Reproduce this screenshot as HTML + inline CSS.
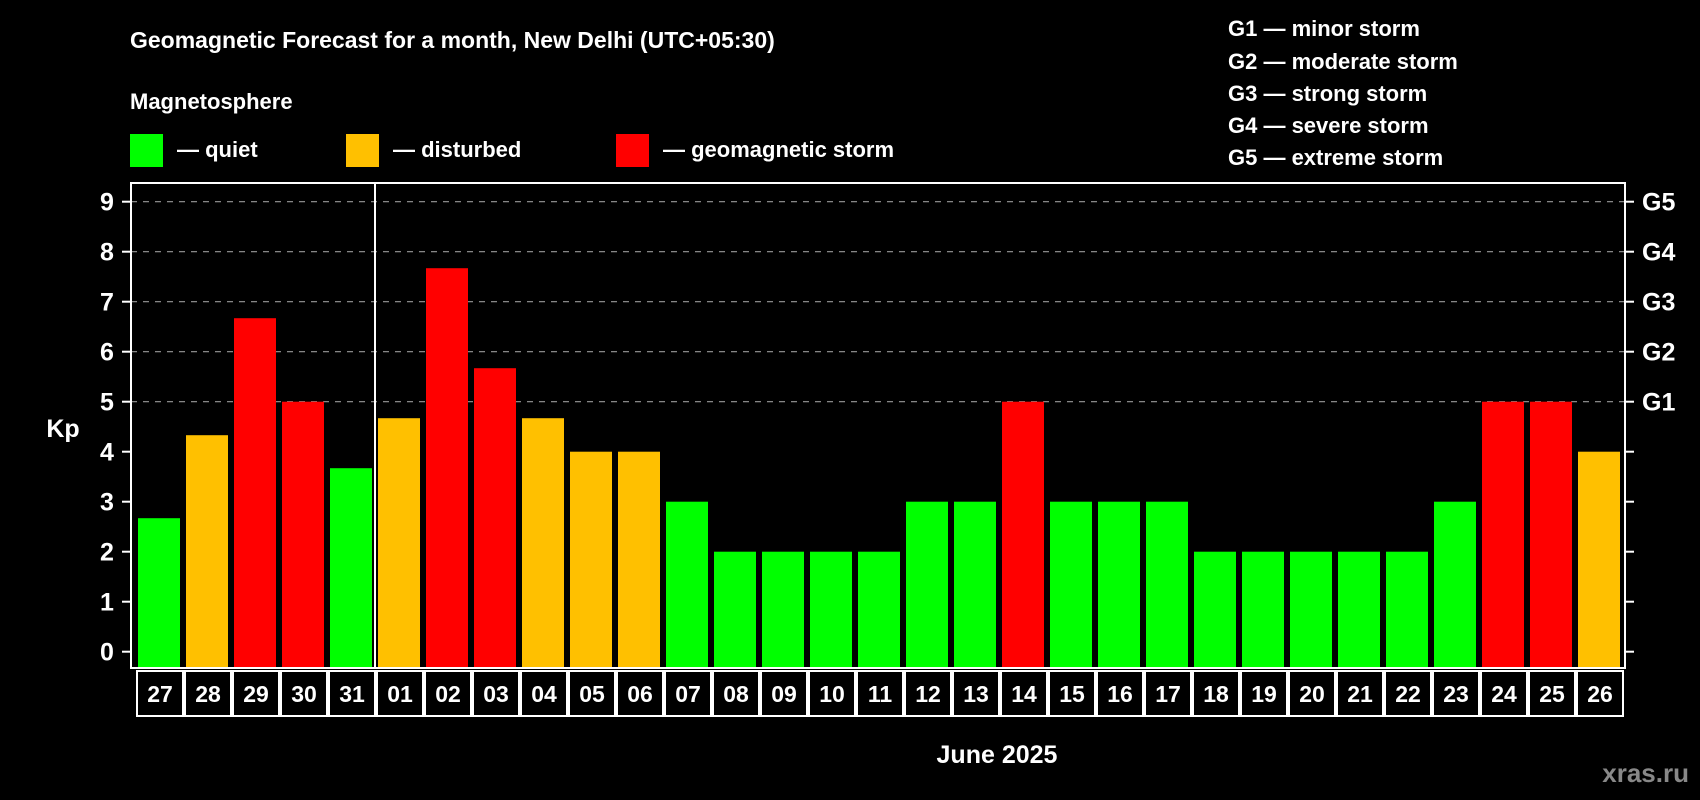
<!DOCTYPE html>
<html><head><meta charset="utf-8">
<style>
html,body{margin:0;padding:0;background:#000;}
svg{display:block;font-family:"Liberation Sans",Arial,sans-serif;font-weight:bold;}
</style></head>
<body>
<svg id="chart" width="1700" height="800" viewBox="0 0 1700 800" xmlns="http://www.w3.org/2000/svg">
<rect width="1700" height="800" fill="#000"/>
<text x="130" y="48" fill="#fff" font-size="23">Geomagnetic Forecast for a month, New Delhi (UTC+05:30)</text>
<text x="130" y="109" fill="#fff" font-size="22">Magnetosphere</text>
<g>
<rect x="130" y="134" width="33" height="33" fill="#00ff00"/>
<text x="177" y="157" fill="#fff" font-size="22">— quiet</text></g>
<g>
<rect x="346" y="134" width="33" height="33" fill="#ffc000"/>
<text x="393" y="157" fill="#fff" font-size="22">— disturbed</text></g>
<g>
<rect x="616" y="134" width="33" height="33" fill="#ff0000"/>
<text x="663" y="157" fill="#fff" font-size="22">— geomagnetic storm</text></g>
<g font-size="22" fill="#fff">
<text x="1228" y="36">G1 — minor storm</text>
<text x="1228" y="69">G2 — moderate storm</text>
<text x="1228" y="101">G3 — strong storm</text>
<text x="1228" y="133">G4 — severe storm</text>
<text x="1228" y="165">G5 — extreme storm</text>
</g>
<text x="63" y="437" fill="#fff" font-size="25" text-anchor="middle">Kp</text>
<text x="997" y="763" fill="#fff" font-size="25" text-anchor="middle">June 2025</text>
<text x="1689" y="782" fill="#888" font-size="26" text-anchor="end">xras.ru</text>
<g id="plot"></g>
</svg>
<script>
const days = ["27","28","29","30","31","01","02","03","04","05","06","07","08","09","10","11","12","13","14","15","16","17","18","19","20","21","22","23","24","25","26"];
const kpValues = [2.67,4.33,6.67,5,3.67,4.67,7.67,5.67,4.67,4,4,3,2,2,2,2,3,3,5,3,3,3,2,2,2,2,2,3,5,5,4];
const yTicks = [0,1,2,3,4,5,6,7,8,9];
const gLabels = ["G1","G2","G3","G4","G5"];
const gLevels = [5,6,7,8,9];
const monthBreakIndex = 5;

const NS = "http://www.w3.org/2000/svg";
const plot = document.getElementById("plot");
const L = 131, R = 1625, T = 183, B = 668;
const y0 = 651.7, unit = 50;
const x0 = 138, pitch = 48, bw = 42;
function yScale(v){ return y0 - v*unit; }
function xScale(i){ return x0 + i*pitch + (i >= monthBreakIndex ? 0 : 0); }
function mk(tag, attrs){ const e = document.createElementNS(NS, tag); for (const k in attrs) e.setAttribute(k, attrs[k]); plot.appendChild(e); return e; }
function color(v){ return v >= 5 ? "#ff0000" : (v >= 4 ? "#ffc000" : "#00ff00"); }

// gridlines
gLevels.forEach(v => {
  const g = mk("line", {x1:L, x2:R, y1:yScale(v), y2:yScale(v), stroke:"#999", "stroke-width":1.2, "stroke-dasharray":"6,6"});
  
  
});
// bars
kpValues.forEach((v, i) => {
  const r = mk("rect", {x:xScale(i), y:yScale(v), width:bw, height:yScale(0) - yScale(v) + (B - y0) - 1, fill:color(v)});
  
  
});
// plot frame
const fr = mk("rect", {x:L, y:T, width:R-L, height:B-T, fill:"none", stroke:"#fff", "stroke-width":2});


const dv = mk("line", {x1:375, x2:375, y1:T, y2:B, stroke:"#fff", "stroke-width":2});


// y ticks
yTicks.forEach(v => {
  const t = mk("line", {x1:122, x2:L, y1:yScale(v), y2:yScale(v), stroke:"#fff", "stroke-width":2});
  
  
  const t2 = mk("line", {x1:R, x2:1634, y1:yScale(v), y2:yScale(v), stroke:"#fff", "stroke-width":2});
  
  
  const lb = mk("text", {x:107, y:yScale(v)+9, fill:"#fff", "font-size":25, "text-anchor":"middle"});
  lb.textContent = v;
  
  
});
gLabels.forEach((g, i) => {
  const lb = mk("text", {x:1642, y:yScale(gLevels[i])+9, fill:"#fff", "font-size":25});
  lb.textContent = g;
  
  
});
// day label cells
days.forEach((d, i) => {
  const cx = 136 + i*pitch;
  const c = mk("rect", {x:cx+1, y:671, width:pitch-2, height:45, fill:"none", stroke:"#fff", "stroke-width":2});
  
  
  const t = mk("text", {x:cx + pitch/2, y:702, fill:"#fff", "font-size":23, "text-anchor":"middle"});
  t.textContent = d;
  
  
});
</script>
</body></html>
